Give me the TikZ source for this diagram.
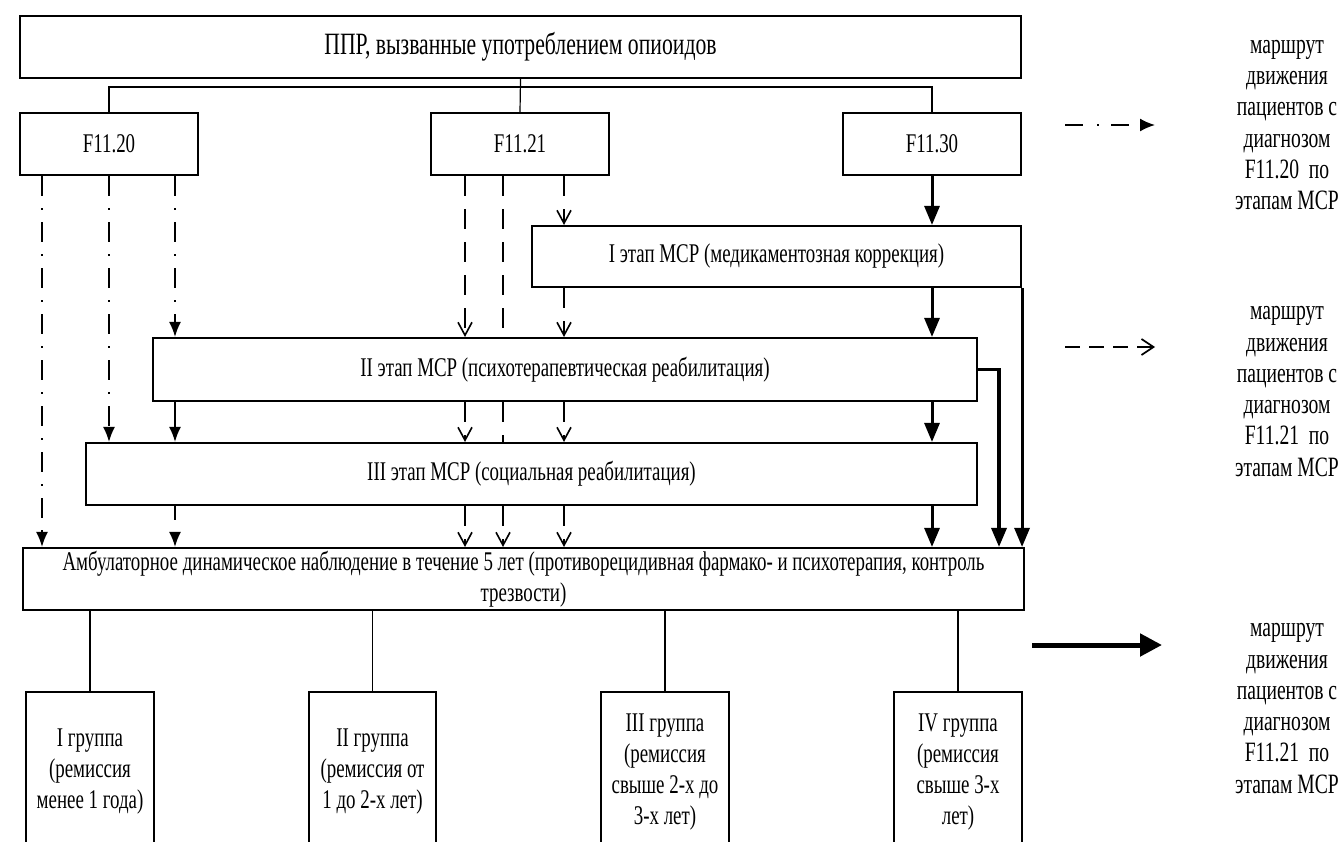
\documentclass[tikz,border=0pt]{standalone}
\usepackage{fontspec}
\setmainfont{Liberation Serif}[FakeStretch=0.70]
\usetikzlibrary{arrows.meta}
\begin{document}
\begin{tikzpicture}[x=1pt,y=-1pt,
  box/.style={draw, line width=2.1pt, fill=white, inner sep=0pt, align=center, font=\fontsize{27}{31}\selectfont},
  legend/.style={inner sep=0pt, align=center, font=\fontsize{28}{31.3}\selectfont},
  tree/.style={line width=1.2pt},
  dd/.style={line width=1.7pt, dash pattern=on 20pt off 12pt on 2pt off 12pt, -{Latex[length=15pt,width=12pt]}},
  sl/.style={line width=1.7pt, -{Latex[length=15pt,width=12pt]}},
  dsh/.style={line width=1.6pt, dash pattern=on 20pt off 13pt, -{Straight Barb[length=13pt,width=14pt]}},
  dshplain/.style={line width=1.6pt, dash pattern=on 20pt off 13pt},
  rt/.style={line width=3pt, -{Triangle[length=19pt,width=15pt]}}
]
\useasboundingbox (0,0) rectangle (1344,841);
\clip (0,0) rectangle (1344,841);

% boxes
\node[box, minimum width=1001pt, minimum height=62pt, font=\fontsize{31}{35}\selectfont] (title) at (520.5,47) {ППР, вызванные употреблением опиоидов};
\node[box, minimum width=178pt, minimum height=62pt] (f20) at (109,144) {F11.20};
\node[box, minimum width=178pt, minimum height=62pt] (f21) at (520,144) {F11.21};
\node[box, minimum width=178pt, minimum height=62pt] (f30) at (932,144) {F11.30};
\node[box, minimum width=489pt, minimum height=61pt] (s1) at (776.5,256.5) {I этап МСР (медикаментозная коррекция)};
\node[box, minimum width=824pt, minimum height=63pt] (s2) at (565,369.5) {II этап МСР (психотерапевтическая реабилитация)};
\node[box, minimum width=891pt, minimum height=62pt] (s3) at (531.5,474) {III этап МСР (социальная реабилитация)};
\node[box, minimum width=1001pt, minimum height=62pt] (amb) at (523.5,579) {Амбулаторное динамическое наблюдение в течение 5 лет (противорецидивная фармако- и психотерапия, контроль\\трезвости)};
\node[box, minimum width=128pt, minimum height=160pt] (g1) at (90,772) {I группа\\(ремиссия\\менее 1 года)};
\node[box, minimum width=127pt, minimum height=160pt] (g2) at (372.5,772) {II группа\\(ремиссия от\\1 до 2-х лет)};
\node[box, minimum width=128pt, minimum height=160pt] (g3) at (665,772) {III группа\\(ремиссия\\свыше 2-х до\\3-х лет)};
\node[box, minimum width=128pt, minimum height=160pt] (g4) at (958,772) {IV группа\\(ремиссия\\свыше 3-х\\лет)};

% legend
\node[legend] (leg1) at (1287,125) {маршрут\\движения\\пациентов с\\диагнозом\\F11.20~~по\\этапам МСР};
\node[legend] (leg2) at (1287,391.5) {маршрут\\движения\\пациентов с\\диагнозом\\F11.21~~по\\этапам МСР};
\node[legend] (leg3) at (1287,708.5) {маршрут\\движения\\пациентов с\\диагнозом\\F11.21~~по\\этапам МСР};
\coordinate (lg1s) at (1065,125); \coordinate (lg1e) at (1155,125);
\coordinate (lg2s) at (1065,347); \coordinate (lg2e) at (1155,347);
\coordinate (lg3s) at (1032,645); \coordinate (lg3e) at (1162,645);
\draw[line width=1.7pt, dash pattern=on 18pt off 14pt on 2pt off 12pt, -{Latex[length=15pt,width=13pt]}] (lg1s) -- (lg1e);
\draw[line width=1.7pt, dash pattern=on 15pt off 9pt, -{Straight Barb[length=12pt,width=16pt]}] (lg2s) -- (lg2e);
\draw[line width=5pt, -{Triangle[length=22pt,width=22pt]}] (lg3s) -- (lg3e);

% tree
\draw[tree] (title.south) -- (f21.north);
\draw[tree] (f20.north) -- ++(0,-25) -| (f30.north);

% lanes
\coordinate (L1) at (42,0);
\coordinate (L2) at (109,0);
\coordinate (L3) at (175,0);
\coordinate (M1) at (465,0);
\coordinate (M2) at (503,0);
\coordinate (M3) at (564,0);
\coordinate (R1) at (932,0);
\coordinate (R2) at (999,0);

% F11.20 routes
\draw[dd] (L1 |- f20.south) -- (L1 |- amb.north);
\draw[dd] (L2 |- f20.south) -- (L2 |- s3.north);
\draw[dd] (L3 |- f20.south) -- (L3 |- s2.north);
\draw[sl] (L3 |- s2.south) -- (L3 |- s3.north);
\draw[line width=1.7pt, dash pattern=on 14pt off 14pt, -{Latex[length=15pt,width=12pt]}] (L3 |- s3.south) -- (L3 |- amb.north);

% F11.21 routes
\draw[dsh] (M1 |- f21.south) -- (M1 |- s2.north);
\draw[dsh] (M1 |- s2.south) -- (M1 |- s3.north);
\draw[dsh] (M1 |- s3.south) -- (M1 |- amb.north);
\draw[dshplain] (M2 |- f21.south) -- (M2 |- s2.north);
\draw[dshplain] (M2 |- s2.south) -- (M2 |- s3.north);
\draw[dsh] (M2 |- s3.south) -- (M2 |- amb.north);
\draw[dsh] (M3 |- f21.south) -- (M3 |- s1.north);
\draw[dsh] (M3 |- s1.south) -- (M3 |- s2.north);
\draw[dsh] (M3 |- s2.south) -- (M3 |- s3.north);
\draw[dsh] (M3 |- s3.south) -- (M3 |- amb.north);

% F11.30 routes
\draw[rt] (f30.south) -- (R1 |- s1.north);
\draw[rt] (R1 |- s1.south) -- (R1 |- s2.north);
\draw[rt] (R1 |- s2.south) -- (R1 |- s3.north);
\draw[rt] (R1 |- s3.south) -- (R1 |- amb.north);
\draw[rt, line width=3.4pt] (s2.east) -| (R2 |- amb.north);
\draw[rt] (s1.south east) -- (s1.south east |- amb.north);

% groups
\draw[tree] (g1.north) -- (g1.north |- amb.south);
\draw[tree] (g2.north) -- (g2.north |- amb.south);
\draw[tree] (g3.north) -- (g3.north |- amb.south);
\draw[tree] (g4.north) -- (g4.north |- amb.south);
\end{tikzpicture}
\end{document}
